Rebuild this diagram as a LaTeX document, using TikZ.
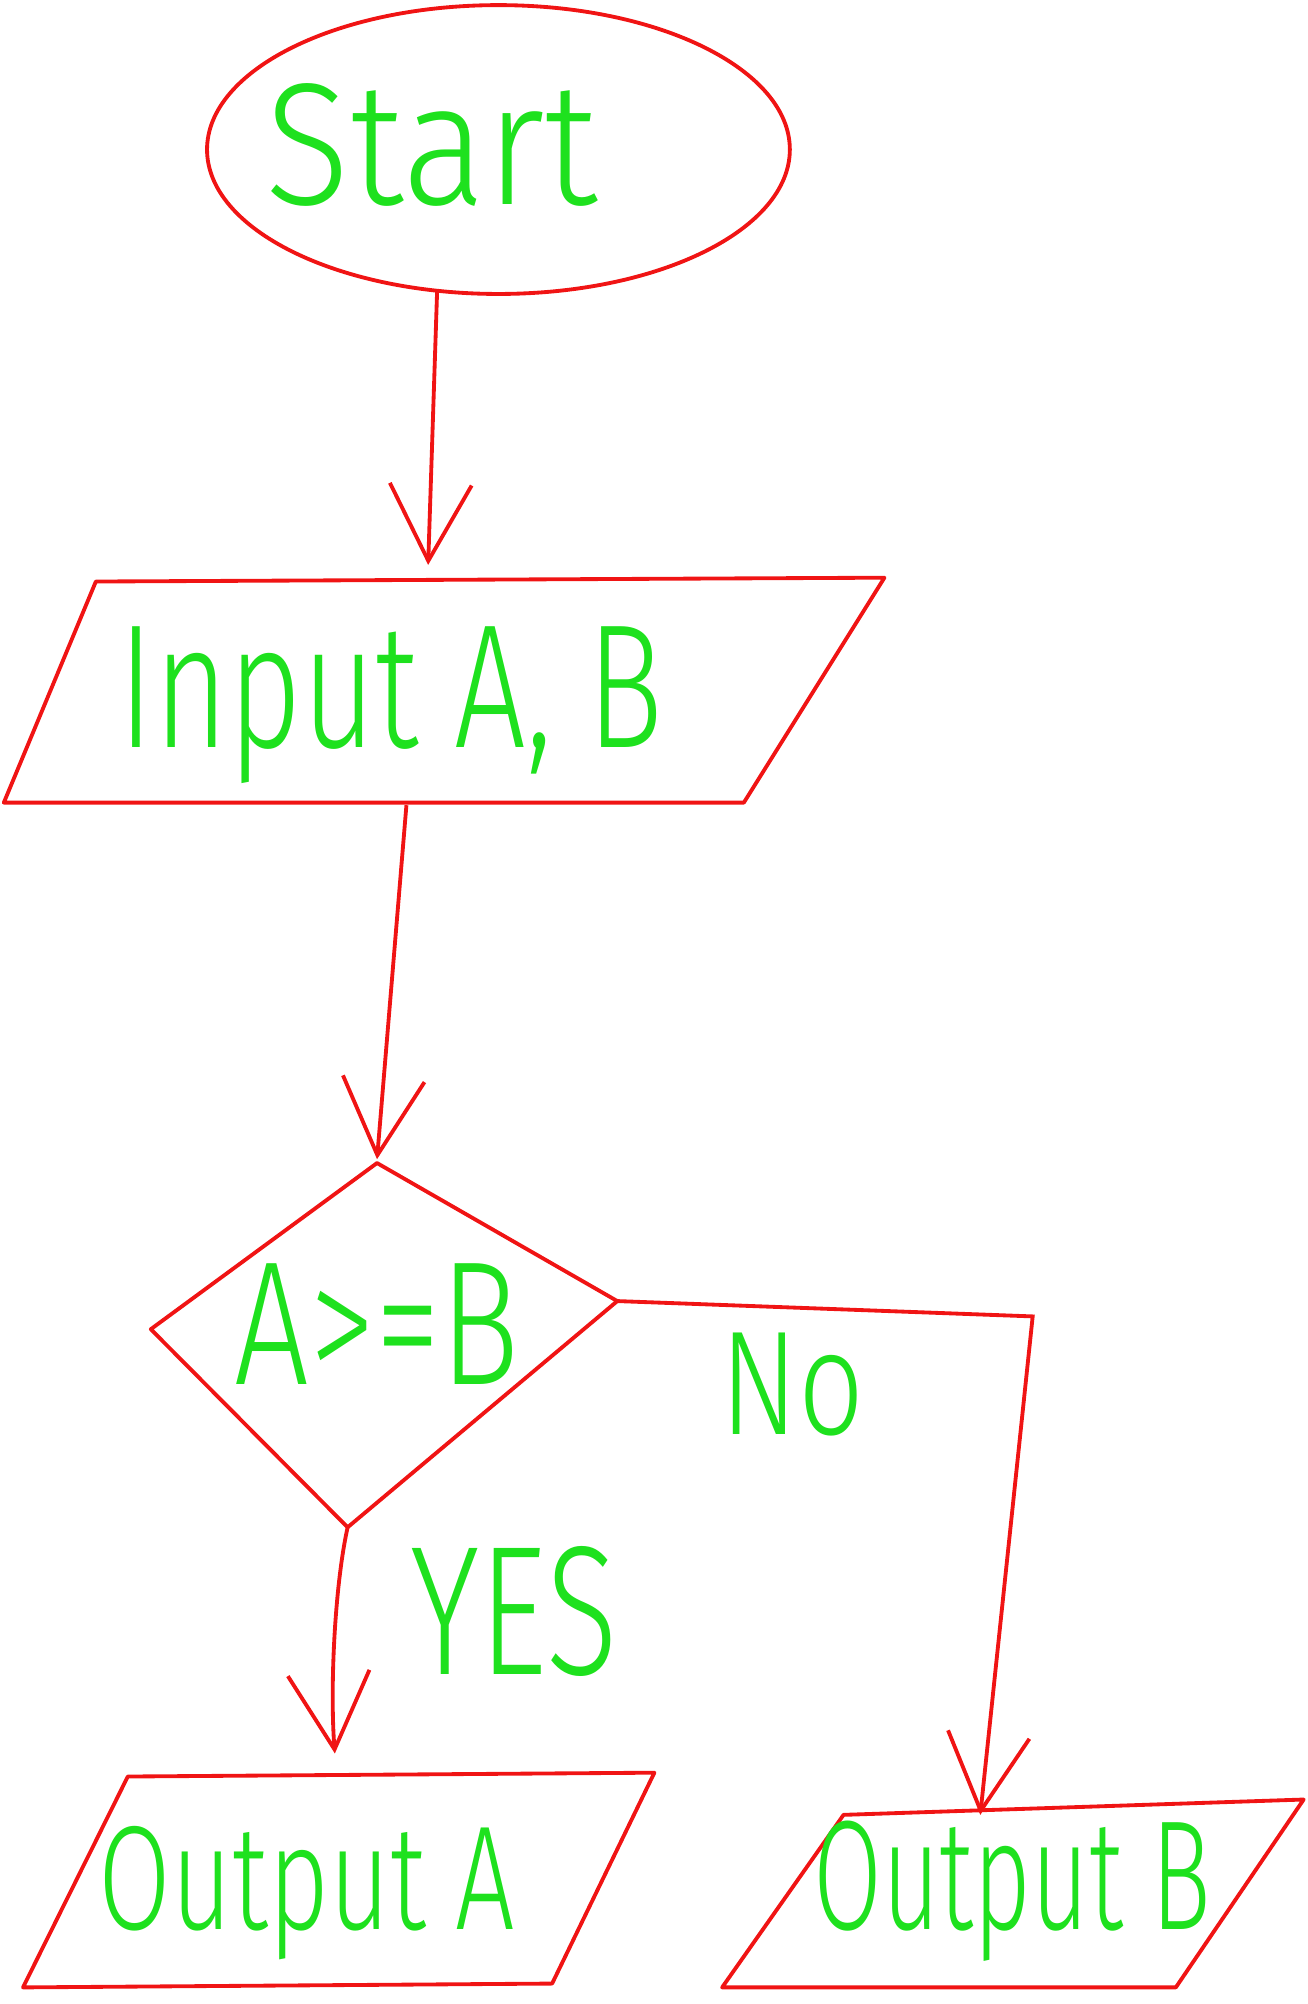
\documentclass[tikz,border=0pt]{standalone}
\usepackage{fontspec}
\setmainfont{Fira Sans Light}
\usetikzlibrary{arrows.meta,shapes.geometric}
\definecolor{pen}{RGB}{240,20,20}
\definecolor{ink}{RGB}{30,225,30}
\begin{document}
\begin{tikzpicture}[x=0.5pt,y=-0.5pt,
  shapeline/.style={draw=pen,line width=1.5pt,line join=round},
  flow/.style={draw=pen,line width=1.5pt,-{Straight Barb[length=30pt,width=32pt]}},
  lbl/.style={text=ink,anchor=base,inner sep=0pt}]
\useasboundingbox (0,0) rectangle (1023,1568);
% Start ellipse
\node[ellipse,shapeline,minimum width=228pt,minimum height=113pt,inner sep=0pt] (start) at (390,117) {};
\node[lbl,font=\fontsize{68}{70}\selectfont] (starttxt) at (338,160) {\scalebox{0.9}[1]{Start}};
% Input parallelogram
\coordinate (iTL) at (75,455);
\coordinate (iTR) at (692,452);
\coordinate (iBR) at (582,628);
\coordinate (iBL) at (3,628);
\draw[shapeline] (iTL) -- (iTR) -- (iBR) -- (iBL) -- cycle;
\node[lbl,font=\fontsize{69}{70}\selectfont] (inputtxt) at (306,585) {\scalebox{0.72}[1]{Input A, B}};
% Decision diamond
\coordinate (dT) at (295,910);
\coordinate (dR) at (483,1018);
\coordinate (dB) at (272,1195);
\coordinate (dL) at (118,1040);
\draw[shapeline] (dT) -- (dR) -- (dB) -- (dL) -- cycle;
\node[lbl,font=\fontsize{69}{70}\selectfont] (condtxt) at (295,1083) {\scalebox{0.75}[1]{A>=B}};
% Output A
\coordinate (aTL) at (100,1390);
\coordinate (aTR) at (512,1387);
\coordinate (aBR) at (432,1552);
\coordinate (aBL) at (18,1555);
\draw[shapeline] (aTL) -- (aTR) -- (aBR) -- (aBL) -- cycle;
\node[lbl,font=\fontsize{58}{60}\selectfont] (outatxt) at (240,1510) {\scalebox{0.71}[1]{Output A}};
% Output B
\coordinate (bTL) at (660,1420);
\coordinate (bTR) at (1020,1408);
\coordinate (bBR) at (920,1555);
\coordinate (bBL) at (565,1555);
\draw[shapeline] (bTL) -- (bTR) -- (bBR) -- (bBL) -- cycle;
\node[lbl,font=\fontsize{61}{62}\selectfont] (outbtxt) at (792,1510) {\scalebox{0.64}[1]{Output B}};
% Connectors
\coordinate (s1) at (342,228);
\coordinate (i0) at (335,442);
\draw[flow] (s1) -- (i0);
\coordinate (i1) at (318,630);
\coordinate (d0) at (295,907);
\draw[flow] (i1) -- (d0);
\coordinate (a0) at (262,1372);
\draw[flow] (dB) .. controls (262,1240) and (258,1320) .. (a0);
\coordinate (nc) at (808,1030);
\coordinate (b0) at (767,1420);
\draw[flow] (dR) -- (nc) -- (b0);
% Branch labels
\node[lbl,font=\fontsize{72}{74}\selectfont] (yes) at (402,1310) {\scalebox{0.72}[1]{YES}};
\node[lbl,font=\fontsize{58}{60}\selectfont] (no) at (620,1122) {\scalebox{0.78}[1]{No}};
\end{tikzpicture}
\end{document}
